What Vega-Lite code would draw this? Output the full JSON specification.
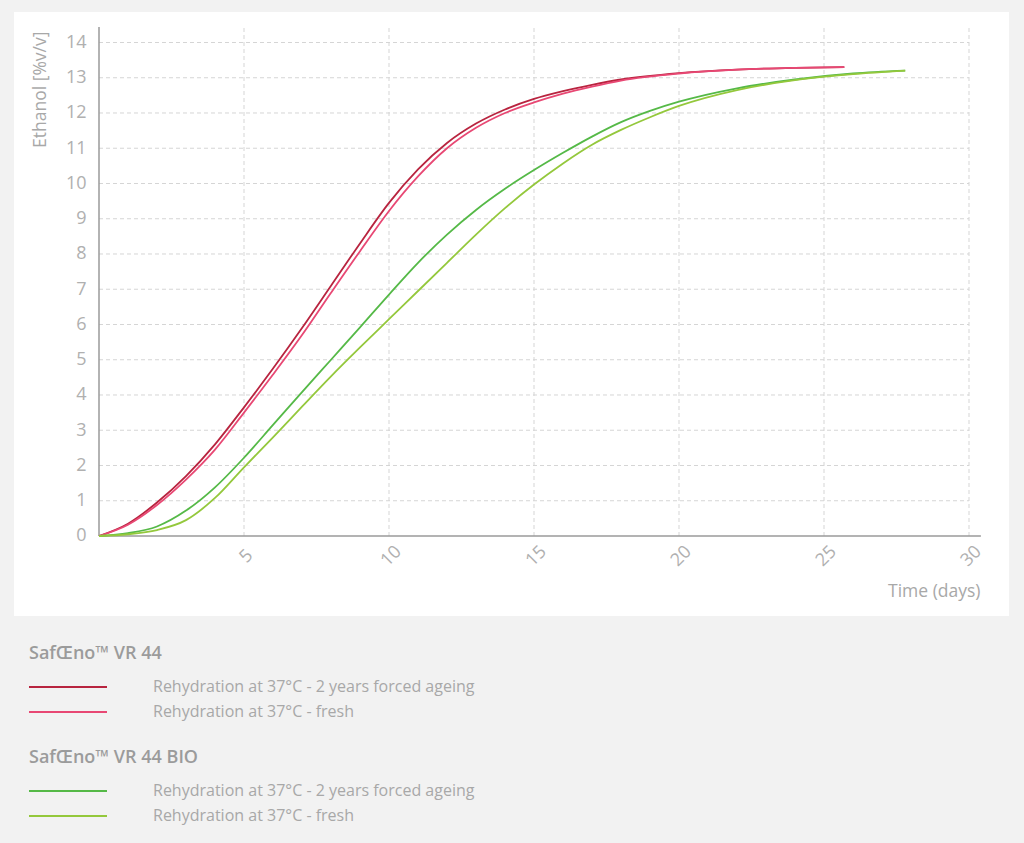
{
  "$schema": "https://vega.github.io/schema/vega-lite/v6.json",
  "description": "Ethanol production over time for SafŒno VR 44 and VR 44 BIO, fresh and after forced ageing.",
  "width": 995,
  "height": 604,
  "autosize": {"type": "none"},
  "padding": {"left": 14, "top": 12, "right": 15, "bottom": 227},
  "background": "#f2f2f2",
  "config": {
    "view": {"fill": "#ffffff", "stroke": null},
    "font": "Open Sans",
    "axis": {
      "labelFont": "Open Sans",
      "titleFont": "Open Sans",
      "domain": false,
      "ticks": false,
      "grid": false,
      "labelColor": "#b0b0b0",
      "labelFontSize": 18,
      "titleColor": "#a8a8a8",
      "titleFontSize": 17.5,
      "titleFontWeight": "normal"
    },
    "legend": {
      "orient": "none",
      "legendX": 15,
      "padding": 0,
      "titleFont": "Open Sans",
      "titleFontSize": 18,
      "titleFontWeight": 600,
      "titleColor": "#9b9b9b",
      "titlePadding": 16,
      "labelFont": "Open Sans",
      "labelFontSize": 16,
      "labelColor": "#a8a8a8",
      "labelOffset": 108,
      "labelLimit": 600,
      "symbolType": "M-1.143,0H10",
      "symbolSize": 196,
      "symbolStrokeWidth": 2,
      "symbolOffset": 0,
      "rowPadding": 9
    }
  },
  "datasets": {
    "ygrid": [
      {"ethanol": 1}, {"ethanol": 2}, {"ethanol": 3}, {"ethanol": 4}, {"ethanol": 5},
      {"ethanol": 6}, {"ethanol": 7}, {"ethanol": 8}, {"ethanol": 9}, {"ethanol": 10},
      {"ethanol": 11}, {"ethanol": 12}, {"ethanol": 13}, {"ethanol": 14}
    ],
    "xgrid": [
      {"day": 5}, {"day": 10}, {"day": 15}, {"day": 20}, {"day": 25}, {"day": 30}
    ],
    "curves": [
      {"product": "SafŒno™ VR 44", "condition": "Rehydration at 37°C - 2 years forced ageing", "day": 0, "ethanol": 0},
      {"product": "SafŒno™ VR 44", "condition": "Rehydration at 37°C - 2 years forced ageing", "day": 1, "ethanol": 0.35},
      {"product": "SafŒno™ VR 44", "condition": "Rehydration at 37°C - 2 years forced ageing", "day": 2, "ethanol": 0.95},
      {"product": "SafŒno™ VR 44", "condition": "Rehydration at 37°C - 2 years forced ageing", "day": 3, "ethanol": 1.7},
      {"product": "SafŒno™ VR 44", "condition": "Rehydration at 37°C - 2 years forced ageing", "day": 4, "ethanol": 2.6},
      {"product": "SafŒno™ VR 44", "condition": "Rehydration at 37°C - 2 years forced ageing", "day": 5, "ethanol": 3.65},
      {"product": "SafŒno™ VR 44", "condition": "Rehydration at 37°C - 2 years forced ageing", "day": 6, "ethanol": 4.75},
      {"product": "SafŒno™ VR 44", "condition": "Rehydration at 37°C - 2 years forced ageing", "day": 7, "ethanol": 5.9},
      {"product": "SafŒno™ VR 44", "condition": "Rehydration at 37°C - 2 years forced ageing", "day": 8, "ethanol": 7.1},
      {"product": "SafŒno™ VR 44", "condition": "Rehydration at 37°C - 2 years forced ageing", "day": 9, "ethanol": 8.3},
      {"product": "SafŒno™ VR 44", "condition": "Rehydration at 37°C - 2 years forced ageing", "day": 10, "ethanol": 9.45},
      {"product": "SafŒno™ VR 44", "condition": "Rehydration at 37°C - 2 years forced ageing", "day": 11, "ethanol": 10.4},
      {"product": "SafŒno™ VR 44", "condition": "Rehydration at 37°C - 2 years forced ageing", "day": 12, "ethanol": 11.15},
      {"product": "SafŒno™ VR 44", "condition": "Rehydration at 37°C - 2 years forced ageing", "day": 13, "ethanol": 11.7},
      {"product": "SafŒno™ VR 44", "condition": "Rehydration at 37°C - 2 years forced ageing", "day": 14, "ethanol": 12.1},
      {"product": "SafŒno™ VR 44", "condition": "Rehydration at 37°C - 2 years forced ageing", "day": 15, "ethanol": 12.4},
      {"product": "SafŒno™ VR 44", "condition": "Rehydration at 37°C - 2 years forced ageing", "day": 16, "ethanol": 12.62},
      {"product": "SafŒno™ VR 44", "condition": "Rehydration at 37°C - 2 years forced ageing", "day": 17, "ethanol": 12.8},
      {"product": "SafŒno™ VR 44", "condition": "Rehydration at 37°C - 2 years forced ageing", "day": 18, "ethanol": 12.95},
      {"product": "SafŒno™ VR 44", "condition": "Rehydration at 37°C - 2 years forced ageing", "day": 20, "ethanol": 13.13},
      {"product": "SafŒno™ VR 44", "condition": "Rehydration at 37°C - 2 years forced ageing", "day": 22, "ethanol": 13.23},
      {"product": "SafŒno™ VR 44", "condition": "Rehydration at 37°C - 2 years forced ageing", "day": 24, "ethanol": 13.28},
      {"product": "SafŒno™ VR 44", "condition": "Rehydration at 37°C - 2 years forced ageing", "day": 25.7, "ethanol": 13.3},
      {"product": "SafŒno™ VR 44", "condition": "Rehydration at 37°C - fresh", "day": 0, "ethanol": 0},
      {"product": "SafŒno™ VR 44", "condition": "Rehydration at 37°C - fresh", "day": 1, "ethanol": 0.32},
      {"product": "SafŒno™ VR 44", "condition": "Rehydration at 37°C - fresh", "day": 2, "ethanol": 0.88},
      {"product": "SafŒno™ VR 44", "condition": "Rehydration at 37°C - fresh", "day": 3, "ethanol": 1.6},
      {"product": "SafŒno™ VR 44", "condition": "Rehydration at 37°C - fresh", "day": 4, "ethanol": 2.45},
      {"product": "SafŒno™ VR 44", "condition": "Rehydration at 37°C - fresh", "day": 5, "ethanol": 3.5},
      {"product": "SafŒno™ VR 44", "condition": "Rehydration at 37°C - fresh", "day": 6, "ethanol": 4.58},
      {"product": "SafŒno™ VR 44", "condition": "Rehydration at 37°C - fresh", "day": 7, "ethanol": 5.7},
      {"product": "SafŒno™ VR 44", "condition": "Rehydration at 37°C - fresh", "day": 8, "ethanol": 6.9},
      {"product": "SafŒno™ VR 44", "condition": "Rehydration at 37°C - fresh", "day": 9, "ethanol": 8.08},
      {"product": "SafŒno™ VR 44", "condition": "Rehydration at 37°C - fresh", "day": 10, "ethanol": 9.22},
      {"product": "SafŒno™ VR 44", "condition": "Rehydration at 37°C - fresh", "day": 11, "ethanol": 10.2},
      {"product": "SafŒno™ VR 44", "condition": "Rehydration at 37°C - fresh", "day": 12, "ethanol": 11.0},
      {"product": "SafŒno™ VR 44", "condition": "Rehydration at 37°C - fresh", "day": 13, "ethanol": 11.58},
      {"product": "SafŒno™ VR 44", "condition": "Rehydration at 37°C - fresh", "day": 14, "ethanol": 12.0},
      {"product": "SafŒno™ VR 44", "condition": "Rehydration at 37°C - fresh", "day": 15, "ethanol": 12.3},
      {"product": "SafŒno™ VR 44", "condition": "Rehydration at 37°C - fresh", "day": 16, "ethanol": 12.55},
      {"product": "SafŒno™ VR 44", "condition": "Rehydration at 37°C - fresh", "day": 17, "ethanol": 12.75},
      {"product": "SafŒno™ VR 44", "condition": "Rehydration at 37°C - fresh", "day": 18, "ethanol": 12.92},
      {"product": "SafŒno™ VR 44", "condition": "Rehydration at 37°C - fresh", "day": 20, "ethanol": 13.12},
      {"product": "SafŒno™ VR 44", "condition": "Rehydration at 37°C - fresh", "day": 22, "ethanol": 13.23},
      {"product": "SafŒno™ VR 44", "condition": "Rehydration at 37°C - fresh", "day": 24, "ethanol": 13.28},
      {"product": "SafŒno™ VR 44", "condition": "Rehydration at 37°C - fresh", "day": 25.7, "ethanol": 13.3},
      {"product": "SafŒno™ VR 44 BIO", "condition": "Rehydration at 37°C - 2 years forced ageing", "day": 0, "ethanol": 0},
      {"product": "SafŒno™ VR 44 BIO", "condition": "Rehydration at 37°C - 2 years forced ageing", "day": 1, "ethanol": 0.08},
      {"product": "SafŒno™ VR 44 BIO", "condition": "Rehydration at 37°C - 2 years forced ageing", "day": 2, "ethanol": 0.27},
      {"product": "SafŒno™ VR 44 BIO", "condition": "Rehydration at 37°C - 2 years forced ageing", "day": 3, "ethanol": 0.72},
      {"product": "SafŒno™ VR 44 BIO", "condition": "Rehydration at 37°C - 2 years forced ageing", "day": 4, "ethanol": 1.38},
      {"product": "SafŒno™ VR 44 BIO", "condition": "Rehydration at 37°C - 2 years forced ageing", "day": 5, "ethanol": 2.22},
      {"product": "SafŒno™ VR 44 BIO", "condition": "Rehydration at 37°C - 2 years forced ageing", "day": 6, "ethanol": 3.15},
      {"product": "SafŒno™ VR 44 BIO", "condition": "Rehydration at 37°C - 2 years forced ageing", "day": 7, "ethanol": 4.08},
      {"product": "SafŒno™ VR 44 BIO", "condition": "Rehydration at 37°C - 2 years forced ageing", "day": 8, "ethanol": 5.0},
      {"product": "SafŒno™ VR 44 BIO", "condition": "Rehydration at 37°C - 2 years forced ageing", "day": 9, "ethanol": 5.92},
      {"product": "SafŒno™ VR 44 BIO", "condition": "Rehydration at 37°C - 2 years forced ageing", "day": 10, "ethanol": 6.85},
      {"product": "SafŒno™ VR 44 BIO", "condition": "Rehydration at 37°C - 2 years forced ageing", "day": 11, "ethanol": 7.75},
      {"product": "SafŒno™ VR 44 BIO", "condition": "Rehydration at 37°C - 2 years forced ageing", "day": 12, "ethanol": 8.55},
      {"product": "SafŒno™ VR 44 BIO", "condition": "Rehydration at 37°C - 2 years forced ageing", "day": 13, "ethanol": 9.25},
      {"product": "SafŒno™ VR 44 BIO", "condition": "Rehydration at 37°C - 2 years forced ageing", "day": 14, "ethanol": 9.85},
      {"product": "SafŒno™ VR 44 BIO", "condition": "Rehydration at 37°C - 2 years forced ageing", "day": 15, "ethanol": 10.38},
      {"product": "SafŒno™ VR 44 BIO", "condition": "Rehydration at 37°C - 2 years forced ageing", "day": 16, "ethanol": 10.87},
      {"product": "SafŒno™ VR 44 BIO", "condition": "Rehydration at 37°C - 2 years forced ageing", "day": 17, "ethanol": 11.33},
      {"product": "SafŒno™ VR 44 BIO", "condition": "Rehydration at 37°C - 2 years forced ageing", "day": 18, "ethanol": 11.74},
      {"product": "SafŒno™ VR 44 BIO", "condition": "Rehydration at 37°C - 2 years forced ageing", "day": 19, "ethanol": 12.06},
      {"product": "SafŒno™ VR 44 BIO", "condition": "Rehydration at 37°C - 2 years forced ageing", "day": 20, "ethanol": 12.32},
      {"product": "SafŒno™ VR 44 BIO", "condition": "Rehydration at 37°C - 2 years forced ageing", "day": 22, "ethanol": 12.7},
      {"product": "SafŒno™ VR 44 BIO", "condition": "Rehydration at 37°C - 2 years forced ageing", "day": 24, "ethanol": 12.95},
      {"product": "SafŒno™ VR 44 BIO", "condition": "Rehydration at 37°C - 2 years forced ageing", "day": 26, "ethanol": 13.12},
      {"product": "SafŒno™ VR 44 BIO", "condition": "Rehydration at 37°C - 2 years forced ageing", "day": 27.8, "ethanol": 13.2},
      {"product": "SafŒno™ VR 44 BIO", "condition": "Rehydration at 37°C - fresh", "day": 0, "ethanol": 0},
      {"product": "SafŒno™ VR 44 BIO", "condition": "Rehydration at 37°C - fresh", "day": 1, "ethanol": 0.05},
      {"product": "SafŒno™ VR 44 BIO", "condition": "Rehydration at 37°C - fresh", "day": 2, "ethanol": 0.17},
      {"product": "SafŒno™ VR 44 BIO", "condition": "Rehydration at 37°C - fresh", "day": 3, "ethanol": 0.45},
      {"product": "SafŒno™ VR 44 BIO", "condition": "Rehydration at 37°C - fresh", "day": 4, "ethanol": 1.08},
      {"product": "SafŒno™ VR 44 BIO", "condition": "Rehydration at 37°C - fresh", "day": 5, "ethanol": 1.95},
      {"product": "SafŒno™ VR 44 BIO", "condition": "Rehydration at 37°C - fresh", "day": 6, "ethanol": 2.8},
      {"product": "SafŒno™ VR 44 BIO", "condition": "Rehydration at 37°C - fresh", "day": 7, "ethanol": 3.67},
      {"product": "SafŒno™ VR 44 BIO", "condition": "Rehydration at 37°C - fresh", "day": 8, "ethanol": 4.53},
      {"product": "SafŒno™ VR 44 BIO", "condition": "Rehydration at 37°C - fresh", "day": 9, "ethanol": 5.35},
      {"product": "SafŒno™ VR 44 BIO", "condition": "Rehydration at 37°C - fresh", "day": 10, "ethanol": 6.15},
      {"product": "SafŒno™ VR 44 BIO", "condition": "Rehydration at 37°C - fresh", "day": 11, "ethanol": 6.95},
      {"product": "SafŒno™ VR 44 BIO", "condition": "Rehydration at 37°C - fresh", "day": 12, "ethanol": 7.75},
      {"product": "SafŒno™ VR 44 BIO", "condition": "Rehydration at 37°C - fresh", "day": 13, "ethanol": 8.55},
      {"product": "SafŒno™ VR 44 BIO", "condition": "Rehydration at 37°C - fresh", "day": 14, "ethanol": 9.3},
      {"product": "SafŒno™ VR 44 BIO", "condition": "Rehydration at 37°C - fresh", "day": 15, "ethanol": 9.97},
      {"product": "SafŒno™ VR 44 BIO", "condition": "Rehydration at 37°C - fresh", "day": 16, "ethanol": 10.57},
      {"product": "SafŒno™ VR 44 BIO", "condition": "Rehydration at 37°C - fresh", "day": 17, "ethanol": 11.1},
      {"product": "SafŒno™ VR 44 BIO", "condition": "Rehydration at 37°C - fresh", "day": 18, "ethanol": 11.52},
      {"product": "SafŒno™ VR 44 BIO", "condition": "Rehydration at 37°C - fresh", "day": 19, "ethanol": 11.88},
      {"product": "SafŒno™ VR 44 BIO", "condition": "Rehydration at 37°C - fresh", "day": 20, "ethanol": 12.2},
      {"product": "SafŒno™ VR 44 BIO", "condition": "Rehydration at 37°C - fresh", "day": 22, "ethanol": 12.65},
      {"product": "SafŒno™ VR 44 BIO", "condition": "Rehydration at 37°C - fresh", "day": 24, "ethanol": 12.93},
      {"product": "SafŒno™ VR 44 BIO", "condition": "Rehydration at 37°C - fresh", "day": 26, "ethanol": 13.1},
      {"product": "SafŒno™ VR 44 BIO", "condition": "Rehydration at 37°C - fresh", "day": 27.8, "ethanol": 13.2}
    ]
  },
  "layer": [
    {
      "data": {"name": "ygrid"},
      "mark": {"type": "rule", "color": "#d5d5d5", "strokeDash": [4, 3], "strokeWidth": 1},
      "encoding": {
        "x": {"datum": 0, "type": "quantitative"},
        "x2": {"datum": 30},
        "y": {"field": "ethanol", "type": "quantitative"}
      }
    },
    {
      "data": {"name": "xgrid"},
      "mark": {"type": "rule", "color": "#d5d5d5", "strokeDash": [4, 3], "strokeWidth": 1},
      "encoding": {
        "x": {"field": "day", "type": "quantitative"},
        "y": {"datum": 0, "type": "quantitative"},
        "y2": {"datum": 14.44}
      }
    },
    {
      "data": {"values": [{}]},
      "mark": {"type": "rule", "color": "#9a9a9a", "strokeWidth": 1.5},
      "encoding": {
        "x": {"datum": 0, "type": "quantitative"},
        "y": {"datum": 0, "type": "quantitative"},
        "y2": {"datum": 14.44}
      }
    },
    {
      "data": {"values": [{}]},
      "mark": {"type": "rule", "color": "#9a9a9a", "strokeWidth": 1.5},
      "encoding": {
        "x": {"datum": 0, "type": "quantitative"},
        "x2": {"datum": 30.41},
        "y": {"datum": 0, "type": "quantitative"}
      }
    },
    {
      "data": {"name": "curves"},
      "transform": [{"filter": {"field": "product", "equal": "SafŒno™ VR 44"}}],
      "mark": {"type": "line", "interpolate": "monotone", "strokeWidth": 1.8},
      "encoding": {
        "x": {"field": "day", "type": "quantitative"},
        "y": {"field": "ethanol", "type": "quantitative"},
        "color": {
          "field": "condition",
          "type": "nominal",
          "scale": {"range": ["#b8243f", "#e84874"]},
          "legend": {"title": "SafŒno™ VR 44", "legendY": 633}
        }
      }
    },
    {
      "data": {"name": "curves"},
      "transform": [{"filter": {"field": "product", "equal": "SafŒno™ VR 44 BIO"}}],
      "mark": {"type": "line", "interpolate": "monotone", "strokeWidth": 1.8},
      "encoding": {
        "x": {"field": "day", "type": "quantitative"},
        "y": {"field": "ethanol", "type": "quantitative"},
        "stroke": {
          "field": "condition",
          "type": "nominal",
          "scale": {"range": ["#55b947", "#94c83c"]},
          "legend": {"title": "SafŒno™ VR 44 BIO", "legendY": 737}
        }
      }
    }
  ],
  "encoding": {
    "x": {
      "type": "quantitative",
      "scale": {"domain": [-2.931, 31.379], "nice": false, "zero": false},
      "title": "Time (days)",
      "axis": {
        "values": [5, 10, 15, 20, 25, 30],
        "offset": -80,
        "labelAngle": -45,
        "labelAlign": "center",
        "labelBaseline": "middle",
        "labelPadding": 20,
        "labelOffset": 2,
        "titleX": 966,
        "titleY": 55,
        "titleAlign": "right",
        "titleBaseline": "middle"
      }
    },
    "y": {
      "type": "quantitative",
      "scale": {"domain": [-2.2695, 14.865], "nice": false, "zero": false},
      "title": "Ethanol [%v/v]",
      "axis": {
        "values": [0, 1, 2, 3, 4, 5, 6, 7, 8, 9, 10, 11, 12, 13, 14],
        "offset": -85,
        "labelPadding": 13,
        "titleX": -59,
        "titleY": 19,
        "titleAngle": 270,
        "titleAlign": "right",
        "titleBaseline": "middle"
      }
    }
  }
}
